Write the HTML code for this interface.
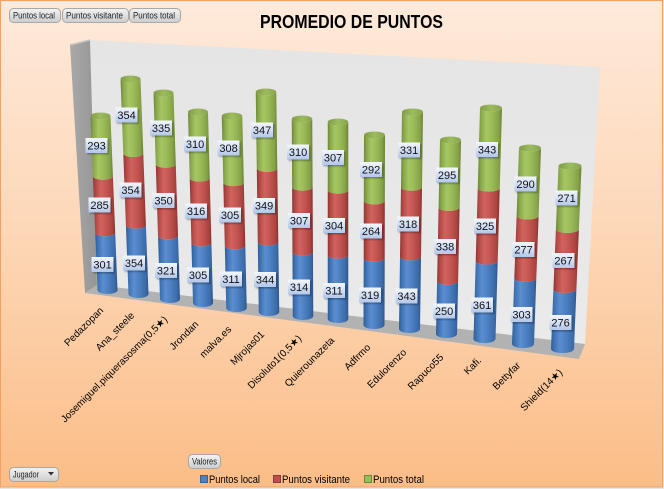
<!DOCTYPE html>
<html><head><meta charset="utf-8">
<style>
html,body{margin:0;padding:0;background:#e6e6e6;}
svg{display:block;}
.v text{font-family:"Liberation Sans",sans-serif;font-size:11px;text-anchor:middle;fill:#111;}
.c text{font-family:"Liberation Sans","DejaVu Sans",sans-serif;font-size:10px;text-anchor:end;fill:#000;}
.b text{font-family:"Liberation Sans","DejaVu Sans",sans-serif;font-size:9px;fill:#222;}
.lg{font-family:"Liberation Sans",sans-serif;font-size:11px;fill:#000;}
</style></head><body>
<svg width="664" height="489" viewBox="0 0 664 489" xmlns="http://www.w3.org/2000/svg">
<defs>
<linearGradient id="bg" x1="0" y1="0" x2="0" y2="1">
<stop offset="0" stop-color="#feeadb"/><stop offset="0.5" stop-color="#fdd6b5"/><stop offset="1" stop-color="#fbbd87"/>
</linearGradient>
<linearGradient id="gB" x1="0" y1="0" x2="1" y2="0">
<stop offset="0" stop-color="#2d5c96"/><stop offset="0.12" stop-color="#3f72b2"/><stop offset="0.35" stop-color="#5a8ed0"/><stop offset="0.6" stop-color="#4b7fc0"/><stop offset="0.88" stop-color="#3a6aa8"/><stop offset="1" stop-color="#2b5688"/>
</linearGradient>
<linearGradient id="gR" x1="0" y1="0" x2="1" y2="0">
<stop offset="0" stop-color="#8e3431"/><stop offset="0.12" stop-color="#b04845"/><stop offset="0.35" stop-color="#d2625e"/><stop offset="0.6" stop-color="#c45652"/><stop offset="0.88" stop-color="#a9433f"/><stop offset="1" stop-color="#86302d"/>
</linearGradient>
<linearGradient id="gG" x1="0" y1="0" x2="1" y2="0">
<stop offset="0" stop-color="#6c8735"/><stop offset="0.12" stop-color="#88a64a"/><stop offset="0.35" stop-color="#a6c664"/><stop offset="0.6" stop-color="#9aba58"/><stop offset="0.88" stop-color="#84a146"/><stop offset="1" stop-color="#687f33"/>
</linearGradient>
<linearGradient id="gC" x1="0" y1="0" x2="1" y2="0">
<stop offset="0" stop-color="#7f9b45"/><stop offset="0.5" stop-color="#9dbc5e"/><stop offset="1" stop-color="#88a44b"/>
</linearGradient>
<linearGradient id="gL" x1="0" y1="0" x2="0" y2="1">
<stop offset="0" stop-color="#f4f7fd"/><stop offset="1" stop-color="#b3c7ea"/>
</linearGradient>
<linearGradient id="gBt" x1="0" y1="0" x2="0" y2="1">
<stop offset="0" stop-color="#f3f3f3"/><stop offset="1" stop-color="#cdcdcd"/>
</linearGradient>
<linearGradient id="gLW" x1="0" y1="0" x2="1" y2="0">
<stop offset="0" stop-color="#a9a9a9"/><stop offset="1" stop-color="#959595"/>
</linearGradient>
<linearGradient id="gBW" x1="0" y1="0" x2="0" y2="1">
<stop offset="0" stop-color="#e5e5e5"/><stop offset="1" stop-color="#eaeaea"/>
</linearGradient>
<filter id="blur" x="-30%" y="-30%" width="160%" height="160%"><feGaussianBlur stdDeviation="0.9"/></filter>
<g id="lb"><rect x="-9.5" y="-6" width="22" height="15" fill="#000" opacity="0.28" filter="url(#blur)"/><rect x="-11" y="-7.5" width="22" height="15" fill="url(#gL)"/></g>
</defs>

<!-- background -->
<rect x="0" y="0" width="664" height="489" fill="#e6e6e6"/>
<rect x="0.5" y="0.5" width="662" height="486.5" fill="url(#bg)" stroke="#f2a264" stroke-width="1"/>

<!-- buttons -->
<g class="b">
<rect x="9.5" y="8.5" width="51" height="14" rx="4" fill="url(#gBt)" stroke="#a8a8a8"/>
<text x="13" y="18.5" textLength="42" lengthAdjust="spacingAndGlyphs">Puntos local</text>
<rect x="62.5" y="8.5" width="66" height="14" rx="4" fill="url(#gBt)" stroke="#a8a8a8"/>
<text x="66" y="18.5" textLength="57" lengthAdjust="spacingAndGlyphs">Puntos visitante</text>
<rect x="129.5" y="8.5" width="51" height="14" rx="4" fill="url(#gBt)" stroke="#a8a8a8"/>
<text x="133" y="18.5" textLength="42" lengthAdjust="spacingAndGlyphs">Puntos total</text>
<rect x="188.5" y="454.5" width="32" height="14" rx="4" fill="url(#gBt)" stroke="#a8a8a8"/>
<text x="192" y="464.5" textLength="25" lengthAdjust="spacingAndGlyphs">Valores</text>
<rect x="9.5" y="467.5" width="49" height="14" rx="4" fill="url(#gBt)" stroke="#a8a8a8"/>
<text x="13" y="477.5" textLength="26" lengthAdjust="spacingAndGlyphs">Jugador</text>
<polygon points="48,472 54,472 51,475.5" fill="#333"/>
</g>

<!-- title -->
<text x="351.5" y="28" text-anchor="middle" font-family="Liberation Sans, sans-serif" font-weight="bold" font-size="18" textLength="183" lengthAdjust="spacingAndGlyphs" fill="#000">PROMEDIO DE PUNTOS</text>

<!-- walls -->
<polygon points="90,40 600,67 585,344 97,285" fill="url(#gBW)"/>
<polygon points="70,45 90,40 97,285 85,293" fill="url(#gLW)"/>
<line x1="70" y1="45" x2="90" y2="40" stroke="#c4c4c4" stroke-width="1.5"/>
<polygon points="85,293 97,285 585,344 579,359" fill="#b2b2b2"/>

<!-- cylinders -->
<g>
<path fill="url(#gB)" d="M97.5,290 A10,4 0 0 0 117.5,290 L115.2,232.8 A10,3.5 0 0 1 95.2,232.8 Z"/>
<path fill="url(#gR)" d="M95.2,232.8 A10,3.5 0 0 0 115.2,232.8 L112.9,176.3 A10,3.5 0 0 1 92.9,176.3 Z"/>
<path fill="url(#gG)" d="M92.9,176.3 A10,3.5 0 0 0 112.9,176.3 L110.5,116 A10,3.5 0 0 1 90.5,116 Z"/>
<ellipse cx="100.5" cy="116" rx="10" ry="3.5" fill="url(#gC)"/>

<path fill="url(#gB)" d="M128.5,294 A10,4 0 0 0 148.5,294 L145.9,225.2 A10,3.5 0 0 1 125.9,225.2 Z"/>
<path fill="url(#gR)" d="M125.9,225.2 A10,3.5 0 0 0 145.9,225.2 L143.3,153.5 A10,3.5 0 0 1 123.3,153.5 Z"/>
<path fill="url(#gG)" d="M123.3,153.5 A10,3.5 0 0 0 143.3,153.5 L140.5,79 A10,3.5 0 0 1 120.5,79 Z"/>
<ellipse cx="130.5" cy="79" rx="10" ry="3.5" fill="url(#gC)"/>

<path fill="url(#gB)" d="M160,299 A10,4 0 0 0 180,299 L178,235.9 A10,3.5 0 0 1 158,235.9 Z"/>
<path fill="url(#gR)" d="M158,235.9 A10,3.5 0 0 0 178,235.9 L175.75,164.3 A10,3.5 0 0 1 155.75,164.3 Z"/>
<path fill="url(#gG)" d="M155.75,164.3 A10,3.5 0 0 0 175.75,164.3 L173.5,93 A10,3.5 0 0 1 153.5,93 Z"/>
<ellipse cx="163.5" cy="93" rx="10" ry="3.5" fill="url(#gC)"/>

<path fill="url(#gB)" d="M193,303 A10,4 0 0 0 213,303 L211.4,242.9 A10,3.5 0 0 1 191.4,242.9 Z"/>
<path fill="url(#gR)" d="M191.4,242.9 A10,3.5 0 0 0 211.4,242.9 L209.7,178.1 A10,3.5 0 0 1 189.7,178.1 Z"/>
<path fill="url(#gG)" d="M189.7,178.1 A10,3.5 0 0 0 209.7,178.1 L208,112 A10,3.5 0 0 1 188,112 Z"/>
<ellipse cx="198" cy="112" rx="10" ry="3.5" fill="url(#gC)"/>

<path fill="url(#gB)" d="M226.25,308 A10.25,4 0 0 0 246.75,308 L245.3,245.9 A10.25,3.5 0 0 1 224.8,245.9 Z"/>
<path fill="url(#gR)" d="M224.8,245.9 A10.25,3.5 0 0 0 245.3,245.9 L243.81,182.6 A10.25,3.5 0 0 1 223.31,182.6 Z"/>
<path fill="url(#gG)" d="M223.31,182.6 A10.25,3.5 0 0 0 243.81,182.6 L242.25,116 A10.25,3.5 0 0 1 221.75,116 Z"/>
<ellipse cx="232" cy="116" rx="10.25" ry="3.5" fill="url(#gC)"/>

<path fill="url(#gB)" d="M258.75,312 A10.25,4 0 0 0 279.25,312 L278.3,242.1 A10.25,3.5 0 0 1 257.8,242.1 Z"/>
<path fill="url(#gR)" d="M257.8,242.1 A10.25,3.5 0 0 0 278.3,242.1 L277.29,168.4 A10.25,3.5 0 0 1 256.79,168.4 Z"/>
<path fill="url(#gG)" d="M256.79,168.4 A10.25,3.5 0 0 0 277.29,168.4 L276.25,92 A10.25,3.5 0 0 1 255.75,92 Z"/>
<ellipse cx="266" cy="92" rx="10.25" ry="3.5" fill="url(#gC)"/>

<path fill="url(#gB)" d="M292.75,316 A10.25,4 0 0 0 313.25,316 L312.95,252.2 A10.25,3.5 0 0 1 292.45,252.2 Z"/>
<path fill="url(#gR)" d="M292.45,252.2 A10.25,3.5 0 0 0 312.95,252.2 L312.6,187.2 A10.25,3.5 0 0 1 292.1,187.2 Z"/>
<path fill="url(#gG)" d="M292.1,187.2 A10.25,3.5 0 0 0 312.6,187.2 L312.25,119 A10.25,3.5 0 0 1 291.75,119 Z"/>
<ellipse cx="302" cy="119" rx="10.25" ry="3.5" fill="url(#gC)"/>

<path fill="url(#gB)" d="M327.75,319 A10.25,4 0 0 0 348.25,319 L348.25,255.2 A10.25,3.5 0 0 1 327.75,255.2 Z"/>
<path fill="url(#gR)" d="M327.75,255.2 A10.25,3.5 0 0 0 348.25,255.2 L348.25,190.2 A10.25,3.5 0 0 1 327.75,190.2 Z"/>
<path fill="url(#gG)" d="M327.75,190.2 A10.25,3.5 0 0 0 348.25,190.2 L348.25,122 A10.25,3.5 0 0 1 327.75,122 Z"/>
<ellipse cx="338" cy="122" rx="10.25" ry="3.5" fill="url(#gC)"/>

<path fill="url(#gB)" d="M363.5,325 A10.5,4 0 0 0 384.5,325 L384.7,258.4 A10.5,3.5 0 0 1 363.7,258.4 Z"/>
<path fill="url(#gR)" d="M363.7,258.4 A10.5,3.5 0 0 0 384.7,258.4 L384.8,200.9 A10.5,3.5 0 0 1 363.8,200.9 Z"/>
<path fill="url(#gG)" d="M363.8,200.9 A10.5,3.5 0 0 0 384.8,200.9 L385,135 A10.5,3.5 0 0 1 364,135 Z"/>
<ellipse cx="374.5" cy="135" rx="10.5" ry="3.5" fill="url(#gC)"/>

<path fill="url(#gB)" d="M399,329 A10.5,4 0 0 0 420,329 L421,256.9 A10.5,3.5 0 0 1 400,256.9 Z"/>
<path fill="url(#gR)" d="M400,256.9 A10.5,3.5 0 0 0 421,256.9 L422,187.3 A10.5,3.5 0 0 1 401,187.3 Z"/>
<path fill="url(#gG)" d="M401,187.3 A10.5,3.5 0 0 0 422,187.3 L423,112 A10.5,3.5 0 0 1 402,112 Z"/>
<ellipse cx="412.5" cy="112" rx="10.5" ry="3.5" fill="url(#gC)"/>

<path fill="url(#gB)" d="M436,334 A10.5,4 0 0 0 457,334 L458.1,281.4 A10.5,3.5 0 0 1 437.1,281.4 Z"/>
<path fill="url(#gR)" d="M437.1,281.4 A10.5,3.5 0 0 0 458.1,281.4 L459.6,207.4 A10.5,3.5 0 0 1 438.6,207.4 Z"/>
<path fill="url(#gG)" d="M438.6,207.4 A10.5,3.5 0 0 0 459.6,207.4 L461,140 A10.5,3.5 0 0 1 440,140 Z"/>
<ellipse cx="450.5" cy="140" rx="10.5" ry="3.5" fill="url(#gC)"/>

<path fill="url(#gB)" d="M473.5,339 A11,4 0 0 0 495.5,339 L497.7,261.1 A11,3.5 0 0 1 475.7,261.1 Z"/>
<path fill="url(#gR)" d="M475.7,261.1 A11,3.5 0 0 0 497.7,261.1 L499.75,188.1 A11,3.5 0 0 1 477.75,188.1 Z"/>
<path fill="url(#gG)" d="M477.75,188.1 A11,3.5 0 0 0 499.75,188.1 L502,108 A11,3.5 0 0 1 480,108 Z"/>
<ellipse cx="491" cy="108" rx="11" ry="3.5" fill="url(#gC)"/>

<path fill="url(#gB)" d="M512,344 A11,4 0 0 0 534,344 L536.3,278.4 A11,3.5 0 0 1 514.3,278.4 Z"/>
<path fill="url(#gR)" d="M514.3,278.4 A11,3.5 0 0 0 536.3,278.4 L538.6,216 A11,3.5 0 0 1 516.6,216 Z"/>
<path fill="url(#gG)" d="M516.6,216 A11,3.5 0 0 0 538.6,216 L541,148 A11,3.5 0 0 1 519,148 Z"/>
<ellipse cx="530" cy="148" rx="11" ry="3.5" fill="url(#gC)"/>

<path fill="url(#gB)" d="M551,349 A11.5,4 0 0 0 574,349 L576.4,289.4 A11.5,3.5 0 0 1 553.4,289.4 Z"/>
<path fill="url(#gR)" d="M553.4,289.4 A11.5,3.5 0 0 0 576.4,289.4 L578.9,229.4 A11.5,3.5 0 0 1 555.9,229.4 Z"/>
<path fill="url(#gG)" d="M555.9,229.4 A11.5,3.5 0 0 0 578.9,229.4 L581.5,166 A11.5,3.5 0 0 1 558.5,166 Z"/>
<ellipse cx="570" cy="166" rx="11.5" ry="3.5" fill="url(#gC)"/>
</g>

<!-- value labels -->
<g class="v">
<g transform="translate(96.5,145.5)"><use href="#lb"/><text y="4">293</text></g>
<g transform="translate(99.5,205)"><use href="#lb"/><text y="4">285</text></g>
<g transform="translate(102.5,264.5)"><use href="#lb"/><text y="4">301</text></g>

<g transform="translate(126.5,115)"><use href="#lb"/><text y="4">354</text></g>
<g transform="translate(130.5,190)"><use href="#lb"/><text y="4">354</text></g>
<g transform="translate(134,263)"><use href="#lb"/><text y="4">354</text></g>

<g transform="translate(161,128)"><use href="#lb"/><text y="4">335</text></g>
<g transform="translate(163.5,200.5)"><use href="#lb"/><text y="4">350</text></g>
<g transform="translate(166,270.5)"><use href="#lb"/><text y="4">321</text></g>

<g transform="translate(195,144)"><use href="#lb"/><text y="4">310</text></g>
<g transform="translate(196,211)"><use href="#lb"/><text y="4">316</text></g>
<g transform="translate(198,275)"><use href="#lb"/><text y="4">305</text></g>

<g transform="translate(228.5,148)"><use href="#lb"/><text y="4">308</text></g>
<g transform="translate(230,215)"><use href="#lb"/><text y="4">305</text></g>
<g transform="translate(231,279)"><use href="#lb"/><text y="4">311</text></g>

<g transform="translate(262,130)"><use href="#lb"/><text y="4">347</text></g>
<g transform="translate(264,205.5)"><use href="#lb"/><text y="4">349</text></g>
<g transform="translate(265,279.5)"><use href="#lb"/><text y="4">344</text></g>

<g transform="translate(298,152)"><use href="#lb"/><text y="4">310</text></g>
<g transform="translate(299,220.5)"><use href="#lb"/><text y="4">307</text></g>
<g transform="translate(299,287)"><use href="#lb"/><text y="4">314</text></g>

<g transform="translate(333,157.5)"><use href="#lb"/><text y="4">307</text></g>
<g transform="translate(334,225.5)"><use href="#lb"/><text y="4">304</text></g>
<g transform="translate(334,290.5)"><use href="#lb"/><text y="4">311</text></g>

<g transform="translate(371,169.5)"><use href="#lb"/><text y="4">292</text></g>
<g transform="translate(371,231)"><use href="#lb"/><text y="4">264</text></g>
<g transform="translate(370,295)"><use href="#lb"/><text y="4">319</text></g>

<g transform="translate(409,150)"><use href="#lb"/><text y="4">331</text></g>
<g transform="translate(408,224)"><use href="#lb"/><text y="4">318</text></g>
<g transform="translate(406.5,296)"><use href="#lb"/><text y="4">343</text></g>

<g transform="translate(447,175)"><use href="#lb"/><text y="4">295</text></g>
<g transform="translate(445,246.5)"><use href="#lb"/><text y="4">338</text></g>
<g transform="translate(444,311)"><use href="#lb"/><text y="4">250</text></g>

<g transform="translate(487,149.5)"><use href="#lb"/><text y="4">343</text></g>
<g transform="translate(485,226)"><use href="#lb"/><text y="4">325</text></g>
<g transform="translate(482,305)"><use href="#lb"/><text y="4">361</text></g>

<g transform="translate(525.5,184)"><use href="#lb"/><text y="4">290</text></g>
<g transform="translate(523.5,249.5)"><use href="#lb"/><text y="4">277</text></g>
<g transform="translate(521.5,314.5)"><use href="#lb"/><text y="4">303</text></g>

<g transform="translate(566.5,198)"><use href="#lb"/><text y="4">271</text></g>
<g transform="translate(563.5,260.5)"><use href="#lb"/><text y="4">267</text></g>
<g transform="translate(560.5,322.5)"><use href="#lb"/><text y="4">276</text></g>
</g>

<!-- category labels -->
<g class="c">
<text transform="translate(104,311) rotate(-45)">Pedazopan</text>
<text transform="translate(135,316) rotate(-45)">Ana_steele</text>
<text transform="translate(168,320) rotate(-45)">Josemiguel.piquerasosma(0,5★)</text>
<text transform="translate(199,325) rotate(-45)">Jrondan</text>
<text transform="translate(232,330) rotate(-45)">malva.es</text>
<text transform="translate(265,335) rotate(-45)">Mjrojas01</text>
<text transform="translate(302,339) rotate(-45)">Disoluto1(0,5★)</text>
<text transform="translate(335,341) rotate(-45)">Quierounazeta</text>
<text transform="translate(371,348) rotate(-45)">Adfrmo</text>
<text transform="translate(407,353) rotate(-45)">Edulorenzo</text>
<text transform="translate(444,358) rotate(-45)">Rapuco55</text>
<text transform="translate(482,361) rotate(-45)">Kafi.</text>
<text transform="translate(521,366) rotate(-45)">Bettyfar</text>
<text transform="translate(563,373) rotate(-45)">Shield(14★)</text>
</g>

<!-- legend -->
<rect x="200.5" y="475.5" width="7" height="7" fill="#4f81bd" stroke="#3a6393"/>
<text class="lg" x="209" y="483" textLength="51" lengthAdjust="spacingAndGlyphs">Puntos local</text>
<rect x="273.5" y="475.5" width="7" height="7" fill="#c0504d" stroke="#8c3836"/>
<text class="lg" x="282" y="483" textLength="68" lengthAdjust="spacingAndGlyphs">Puntos visitante</text>
<rect x="364.5" y="475.5" width="7" height="7" fill="#9bbb59" stroke="#71893f"/>
<text class="lg" x="373" y="483" textLength="51" lengthAdjust="spacingAndGlyphs">Puntos total</text>
</svg>
</body></html>
